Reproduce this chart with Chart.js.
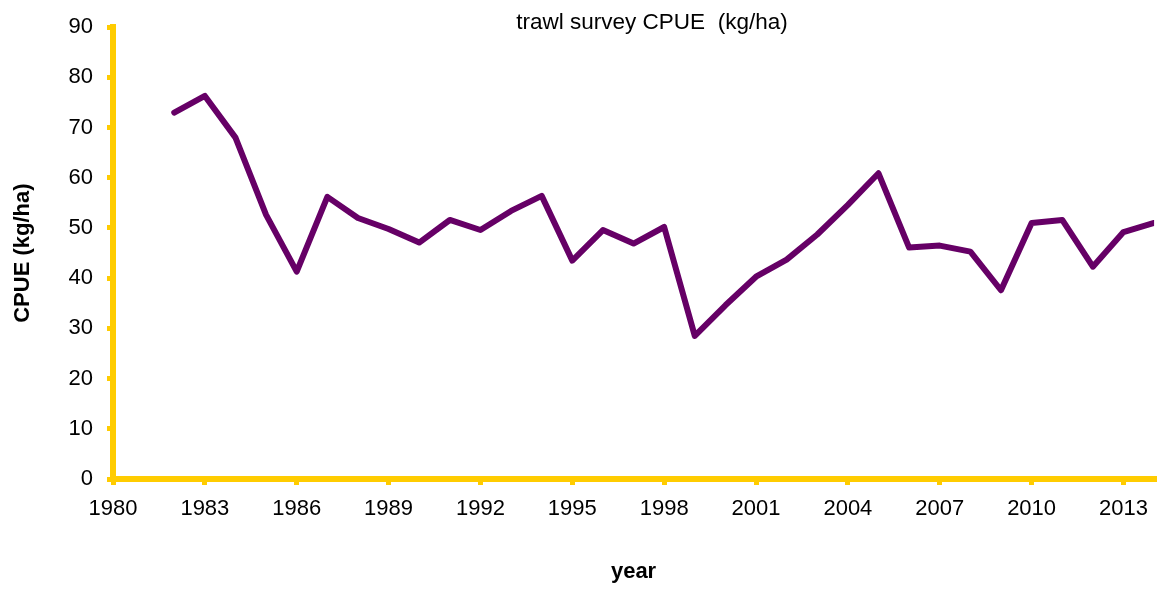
<!DOCTYPE html>
<html>
<head>
<meta charset="utf-8">
<script src="https://cdn.jsdelivr.net/npm/chart.js@4/dist/chart.umd.min.js"></script>
<style>
  html, body { margin: 0; padding: 0; background: #fff; }
  #wrap { width: 1159px; height: 589px; }
</style>
</head>
<body>
<div id="wrap"><canvas id="c" width="1159" height="589"></canvas></div>
<script>
const years = [1982,1983,1984,1985,1986,1987,1988,1989,1990,1991,1992,1993,1994,1995,1996,1997,1998,1999,2000,2001,2002,2003,2004,2005,2006,2007,2008,2009,2010,2011,2012,2013,2014];
const cpue = [73.0,76.3,68.0,52.6,41.3,56.2,52.0,49.8,47.1,51.6,49.6,53.4,56.4,43.5,49.6,46.9,50.2,28.5,34.6,40.3,43.7,48.7,54.6,60.9,46.1,46.5,45.3,37.6,51.0,51.6,42.3,49.2,51.0];
const xTickLabels = [1980,1983,1986,1989,1992,1995,1998,2001,2004,2007,2010,2013];
const yTickLabels = [0,10,20,30,40,50,60,70,80,90];
const chartTitle = 'trawl survey CPUE  (kg/ha)';

const axisColor = '#FFCC00';
const lineColor = '#660066';
const font = 'Arial, "Liberation Sans", sans-serif';

const titlePlugin = {
  id: 'topTitle',
  afterDraw(chart) {
    const ctx = chart.ctx;
    ctx.save();
    ctx.font = '22.5px ' + font;
    ctx.fillStyle = '#000';
    ctx.textAlign = 'center';
    ctx.textBaseline = 'middle';
    ctx.fillText(chartTitle, 652, 23);
    ctx.restore();
  }
};

new Chart(document.getElementById('c'), {
  type: 'line',
  data: {
    datasets: [{
      data: years.map((y, i) => ({ x: y, y: cpue[i] })),
      borderColor: lineColor,
      borderWidth: 6,
      pointRadius: 0,
      tension: 0,
      fill: false,
      borderJoinStyle: 'round',
      borderCapStyle: 'round'
    }]
  },
  options: {
    responsive: false,
    animation: false,
    devicePixelRatio: 1,
    layout: { padding: { left: 0, right: 2, top: 24, bottom: 0 } },
    plugins: { legend: { display: false }, tooltip: { enabled: false } },
    scales: {
      x: {
        type: 'linear',
        min: 1980,
        max: 2014,
        afterBuildTicks(scale) { scale.ticks = xTickLabels.map(v => ({ value: v })); },
        afterFit(scale) { scale.height = 110; },
        grid: { display: true, drawOnChartArea: false, drawTicks: true, tickLength: 6, color: axisColor, lineWidth: 5 },
        border: { display: true, color: axisColor, width: 6 },
        ticks: { color: '#000', font: { size: 22, family: font }, padding: 11, maxRotation: 0, autoSkip: false, callback: v => String(v) },
        title: { display: true, text: 'year', color: '#000', font: { size: 22, weight: 'bold', family: font }, padding: { top: 30 } }
      },
      y: {
        min: 0,
        max: 90,
        afterBuildTicks(scale) { scale.ticks = yTickLabels.map(v => ({ value: v })); },
        afterFit(scale) { scale.width = 113; },
        grid: { display: true, drawOnChartArea: false, drawTicks: true, tickLength: 6, color: axisColor, lineWidth: 5 },
        border: { display: true, color: axisColor, width: 6 },
        ticks: { color: '#000', font: { size: 22, family: font }, padding: 14, callback: v => String(v) },
        title: { display: true, text: 'CPUE (kg/ha)', color: '#000', font: { size: 22, weight: 'bold', family: font }, padding: { top: 10, bottom: 0 } }
      }
    }
  },
  plugins: [titlePlugin]
});
</script>
</body>
</html>
